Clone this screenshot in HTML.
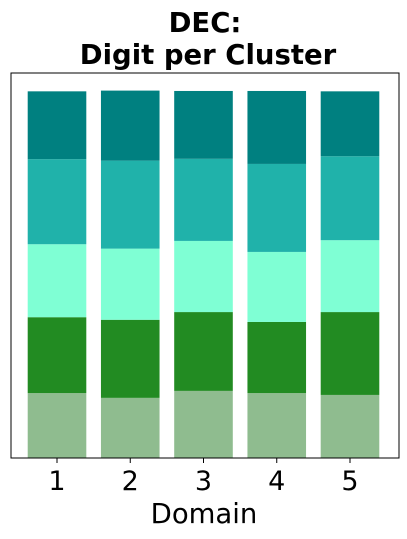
<!DOCTYPE html>
<html><head><meta charset="utf-8"><style>
body{margin:0;background:#fff;}
svg{display:block;font-family:"DejaVu Sans","Liberation Sans",sans-serif;}
</style></head><body>
<svg id="chart" width="407" height="539">
<text x="205" y="32" text-anchor="middle" font-size="27.5" font-weight="bold">DEC:</text>
<text x="208" y="64" text-anchor="middle" font-size="27.5" font-weight="bold">Digit per Cluster</text>
<g id="bars"></g>
<rect x="11" y="73" width="388" height="385" fill="none" stroke="#000" stroke-width="1"/>
<g id="ticks"></g>
<text x="204" y="523" text-anchor="middle" font-size="27.5">Domain</text>
</svg>
<script>
const categories = ["1","2","3","4","5"];
const seg1 = [0.177,0.164,0.183,0.177,0.172];
const seg2 = [0.207,0.213,0.215,0.194,0.226];
const seg3 = [0.199,0.194,0.194,0.191,0.196];
const seg4 = [0.232,0.240,0.224,0.240,0.229];
const seg5 = [0.185,0.191,0.185,0.199,0.177];
const series = [seg1,seg2,seg3,seg4,seg5];
const colors = ["#8fbc8f","#228b22","#7fffd4","#20b2aa","#008080"];
const L=11,R=399,T=73,B=458, xmin=0.372,xmax=5.669, ymax=1.05;
const xs=v=>L+(v-xmin)/(xmax-xmin)*(R-L);
const ys=v=>B-v/ymax*(B-T);
const ns="http://www.w3.org/2000/svg";
const g=document.getElementById('bars'), tg=document.getElementById('ticks');
categories.forEach((c,i)=>{
  let base=0;
  const x0=xs(i+1-0.4), x1=xs(i+1+0.4);
  series.forEach((s,k)=>{
    const r=document.createElementNS(ns,'rect');
    r.setAttribute('x',x0);r.setAttribute('width',x1-x0);
    r.setAttribute('y',ys(base+s[i]));r.setAttribute('height',ys(base)-ys(base+s[i]));
    r.setAttribute('fill',colors[k]);
    
    
    g.appendChild(r);
    base+=s[i];
  });
  const t=document.createElementNS(ns,'line');
  t.setAttribute('x1',xs(i+1));t.setAttribute('x2',xs(i+1));t.setAttribute('y1',B);t.setAttribute('y2',B+5);
  t.setAttribute('stroke','#000');
  
  
  tg.appendChild(t);
  const tx=document.createElementNS(ns,'text');
  tx.setAttribute('x',xs(i+1));tx.setAttribute('y',490);tx.setAttribute('text-anchor','middle');tx.setAttribute('font-size','27');
  tx.textContent=c;
  
  
  tg.appendChild(tx);
});
</script>
</body></html>
